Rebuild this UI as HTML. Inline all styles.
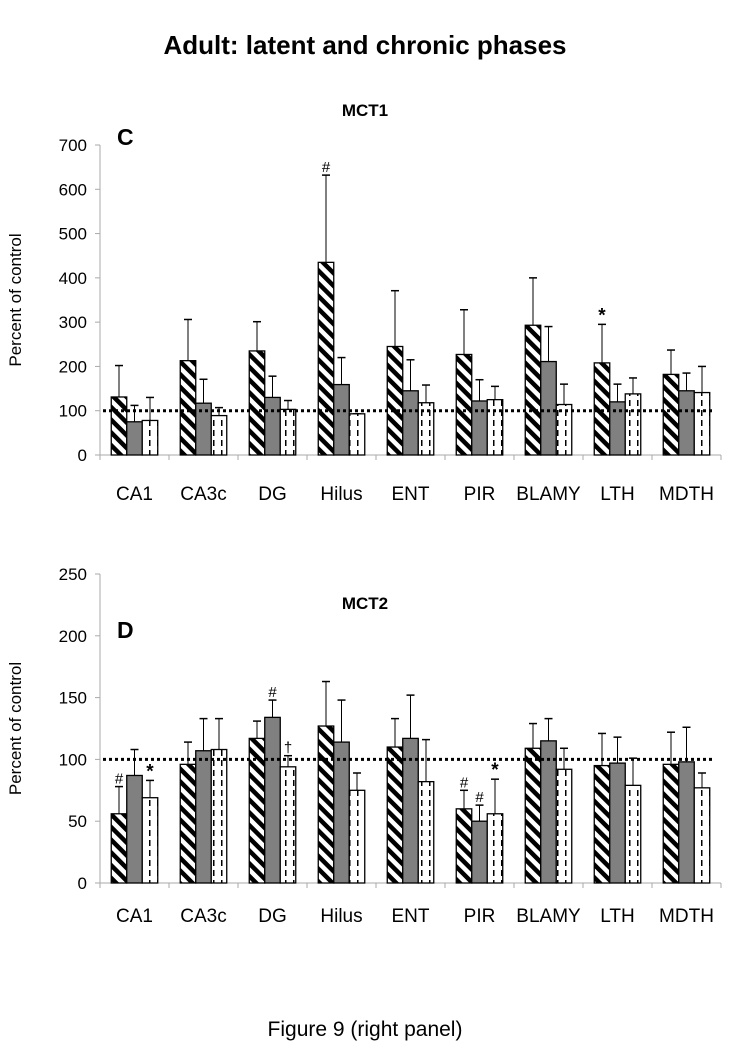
<!DOCTYPE html>
<html><head><meta charset="utf-8"><style>
body{margin:0;background:#fff;}
svg{display:block;font-family:"Liberation Sans",Arial,sans-serif;}
</style></head><body>
<svg id="fig" width="731" height="1050" viewBox="0 0 731 1050" xmlns="http://www.w3.org/2000/svg">
<defs>
<pattern id="hatch" patternUnits="userSpaceOnUse" width="9" height="9" patternTransform="rotate(45)">
<rect width="9" height="9" fill="#fff"/><rect x="0" y="0" width="9" height="4.5" fill="#000"/>
</pattern>
<pattern id="dash" patternUnits="userSpaceOnUse" width="8" height="10">
<rect width="8" height="10" fill="#fff"/><rect x="5" y="0" width="1.5" height="6" fill="#000"/>
</pattern>
</defs>
<text x="365" y="54" text-anchor="middle" font-size="26" font-weight="bold">Adult: latent and chronic phases</text>
<text x="365" y="1036" text-anchor="middle" font-size="21">Figure 9 (right panel)</text>
<g id="c1"></g><g id="c2"></g>
</svg>
<script>
const categories=["CA1","CA3c","DG","Hilus","ENT","PIR","BLAMY","LTH","MDTH"];
const mct1Mean1=[131,213,235,435,245,227,293,208,182];
const mct1Err1=[202,306,301,632,371,328,400,295,237];
const mct1Mean2=[75,117,130,159,145,122,211,120,145];
const mct1Err2=[112,171,178,220,215,170,290,160,185];
const mct1Mean3=[78,89,103,93,118,125,114,138,141];
const mct1Err3=[130,107,123,93,158,155,160,174,200];
const mct1Ticks=[0,100,200,300,400,500,600,700];
const mct1Marks=[[3,0,"#"],[7,0,"*"]];
const mct2Mean1=[56,96,117,127,110,60,109,95,96];
const mct2Err1=[78,114,131,163,133,75,129,121,122];
const mct2Mean2=[87,107,134,114,117,50,115,97,98];
const mct2Err2=[108,133,148,148,152,63,133,118,126];
const mct2Mean3=[69,108,94,75,82,56,92,79,77];
const mct2Err3=[83,133,103,89,116,84,109,101,89];
const mct2Ticks=[0,50,100,150,200,250];
const mct2Marks=[[0,0,"#"],[0,2,"*"],[2,1,"#"],[2,2,"†"],[5,0,"#"],[5,1,"#"],[5,2,"*"]];
const NS="http://www.w3.org/2000/svg";
function mk(g,t,a){const e=document.createElementNS(NS,t);for(const k in a)e.setAttribute(k,a[k]);g.appendChild(e);return e;}
function chart(gid,y0,yTop,max,ticks,means,errs,marks,title,letter,titleY,labY,key){
 const g=document.getElementById(gid);
 const x0=100,cw=69,n=categories.length;
 const ys=v=>y0-(v/max)*(y0-yTop);
 const xs=i=>x0+cw*i+cw/2;
 let t=mk(g,"text",{x:365,y:titleY,"text-anchor":"middle","font-size":17,"font-weight":"bold"});t.textContent=title;
 
 
 t=mk(g,"text",{x:117,y:titleY+29,"font-size":23,"font-weight":"bold"});t.textContent=letter;
 
 
 t=mk(g,"text",{x:21,y:(y0+yTop)/2,"text-anchor":"middle","font-size":17,transform:`rotate(-90 21 ${(y0+yTop)/2})`});t.textContent="Percent of control";
 
 
 let a=mk(g,"line",{x1:x0,y1:yTop,x2:x0,y2:y0,stroke:"#aaa","stroke-width":1});
 
 
 a=mk(g,"line",{x1:x0,y1:y0,x2:x0+cw*n,y2:y0,stroke:"#aaa","stroke-width":1});
 
 
 ticks.forEach(v=>{mk(g,"line",{x1:x0-5,y1:ys(v),x2:x0,y2:ys(v),stroke:"#aaa"});
  const l=mk(g,"text",{x:x0-13,y:ys(v)+6,"text-anchor":"end","font-size":17});l.textContent=v;
  
  });
 for(let i=0;i<=n;i++)mk(g,"line",{x1:x0+cw*i,y1:y0,x2:x0+cw*i,y2:y0+5,stroke:"#aaa"});
 const fills=["url(#hatch)","#808080","url(#dash)"];
 const bw=15.5;
 categories.forEach((c,i)=>{
  const l=mk(g,"text",{x:xs(i),y:labY,"text-anchor":"middle","font-size":19});l.textContent=c;
  
  
  for(let s=0;s<3;s++){
   const bx=xs(i)-bw*1.5+bw*s,cx=bx+bw/2;
   const e=ys(errs[s][i]),m=ys(means[s][i]);
   mk(g,"line",{x1:cx,y1:e,x2:cx,y2:m,stroke:"#000","stroke-width":1});
   mk(g,"line",{x1:cx-4,y1:e,x2:cx+4,y2:e,stroke:"#000","stroke-width":1.5});
   const r=mk(g,"rect",{x:bx,y:m,width:bw,height:y0-m,fill:fills[s],stroke:"#000","stroke-width":1.3});
   
   
  }});
 const ln=mk(g,"line",{x1:x0+3,y1:ys(100),x2:x0+cw*n-8,y2:ys(100),stroke:"#000","stroke-width":3,"stroke-dasharray":"3 3"});
 
 
 marks.forEach(([i,s,ch])=>{
  const cx=xs(i)-bw*1.5+bw*s+bw/2;
  const st=ch==="*";
  const tt=mk(g,"text",{x:cx,y:ys(errs[s][i])-3,"text-anchor":"middle","font-size":st?19:15,"font-weight":st?"bold":"normal"});tt.textContent=ch;
  
  
 });
}
chart("c1",455,145,700,mct1Ticks,[mct1Mean1,mct1Mean2,mct1Mean3],[mct1Err1,mct1Err2,mct1Err3],mct1Marks,"MCT1","C",116,500,"mct1");
chart("c2",883,574,250,mct2Ticks,[mct2Mean1,mct2Mean2,mct2Mean3],[mct2Err1,mct2Err2,mct2Err3],mct2Marks,"MCT2","D",609,922,"mct2");
</script>
</body></html>
